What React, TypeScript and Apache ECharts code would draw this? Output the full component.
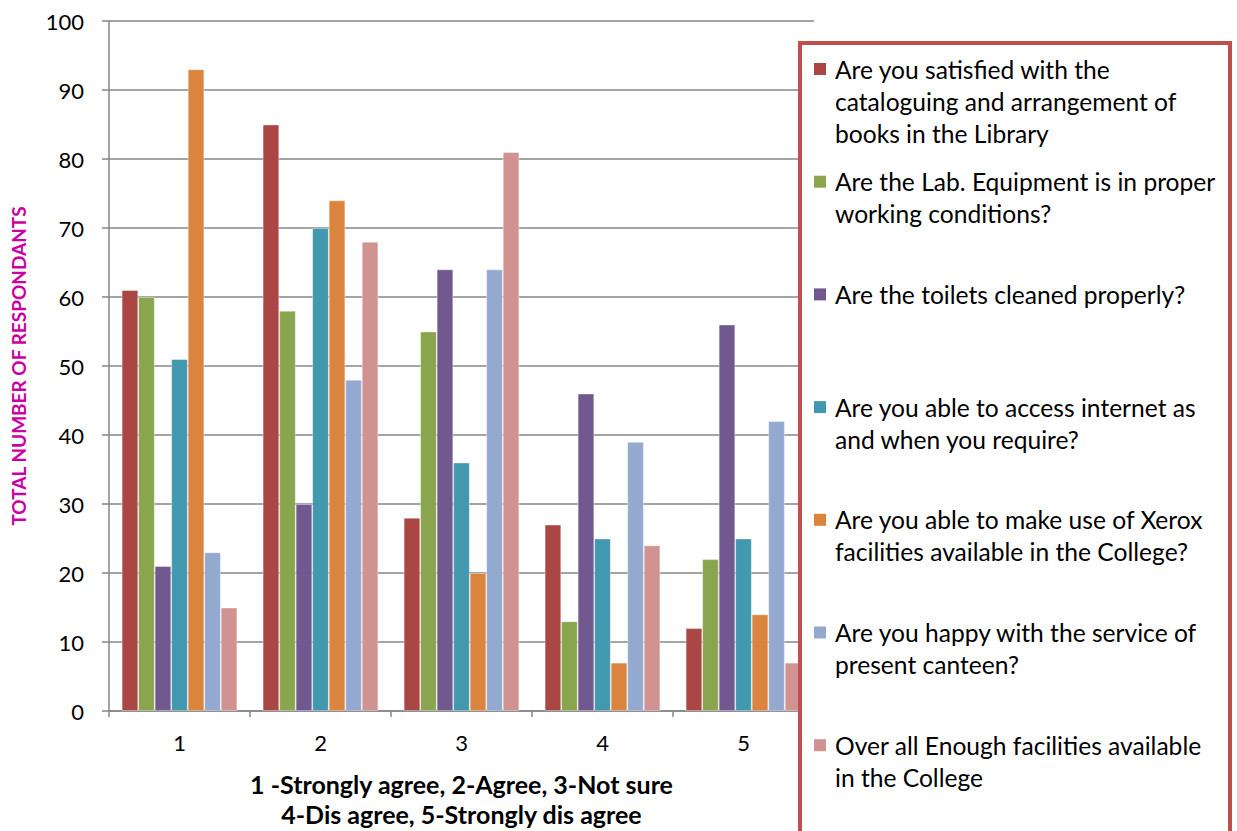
import React, { useEffect, useRef } from "react";
import * as echarts from "echarts";

const categories = ["1", "2", "3", "4", "5"];
const seriesNames = [
  "Are you satisfied with the cataloguing and arrangement of books in the Library",
  "Are the Lab. Equipment is in proper working conditions?",
  "Are the toilets cleaned properly?",
  "Are you able to access internet as and when you require?",
  "Are you able to make use of Xerox facilities available in the College?",
  "Are you happy with the service of present canteen?",
  "Over all Enough facilities available in the College",
];
const legendLines = [
  ["Are you satisfied with the", "cataloguing and arrangement of", "books in the Library"],
  ["Are the Lab. Equipment is in proper", "working conditions?"],
  ["Are the toilets cleaned properly?"],
  ["Are you able to access internet as", "and when you require?"],
  ["Are you able to make use of Xerox", "facilities available in the College?"],
  ["Are you happy with the service of", "present canteen?"],
  ["Over all Enough facilities available", "in the College"],
];
const library = [61, 85, 28, 27, 12];
const labEquipment = [60, 58, 55, 13, 22];
const toilets = [21, 30, 64, 46, 56];
const internet = [51, 70, 36, 25, 25];
const xerox = [93, 74, 20, 7, 14];
const canteen = [23, 48, 64, 39, 42];
const overall = [15, 68, 81, 24, 7];
const seriesData = [library, labEquipment, toilets, internet, xerox, canteen, overall];
const colors = ["#AA4644", "#89A54E", "#71588F", "#4198AF", "#DB843D", "#93A9CF", "#D19392"];
const yTicks = [0, 10, 20, 30, 40, 50, 60, 70, 80, 90, 100];

const FONT = "Lato, 'Open Sans', sans-serif";

export default function App() {
  const ref = useRef<HTMLDivElement>(null);
  useEffect(() => {
    if (!ref.current) return;
    const chart = echarts.init(ref.current, null, { renderer: "svg" });

    const legendGraphics: any[] = [];
    legendGraphics.push({
      type: "rect",
      shape: { x: 800, y: 43, width: 430, height: 800 },
      style: { fill: "#ffffff", stroke: "#C0504D", lineWidth: 4 },
      z: 100,
    });
    legendLines.forEach((lines, i) => {
      const top = 60 + i * 112.7;
      legendGraphics.push({
        type: "rect",
        shape: { x: 814, y: top + 3, width: 12, height: 12 },
        style: { fill: colors[i] },
        z: 101,
      });
      lines.forEach((ln, j) => {
        legendGraphics.push({
          type: "text",
          x: 835,
          y: top + 9 + j * 32,
          style: {
            text: ln,
            fill: "#000000",
            font: `24.6px ${FONT}`,
            textVerticalAlign: "middle",
            textAlign: "left",
          },
          z: 101,
        });
      });
    });

    chart.setOption({
      animation: false,
      backgroundColor: "#ffffff",
      color: colors,
      grid: {
        left: 109,
        right: 423,
        top: 21,
        bottom: 120,
        containLabel: false,
        outerBoundsMode: "none",
      },
      xAxis: {
        type: "category",
        data: categories,
        name: "1 -Strongly agree, 2-Agree, 3-Not sure\n4-Dis agree, 5-Strongly dis agree",
        nameLocation: "middle",
        nameGap: 58,
        nameTextStyle: {
          fontFamily: FONT,
          fontWeight: "bold",
          fontSize: 25,
          color: "#000",
          lineHeight: 30,
          verticalAlign: "top",
        },
        axisLine: { lineStyle: { color: "#868686", width: 1.5 } },
        axisTick: { show: true, length: 6, lineStyle: { color: "#868686", width: 1.5 } },
        axisLabel: { fontFamily: FONT, fontSize: 22, color: "#000", margin: 20 },
      },
      yAxis: {
        type: "value",
        min: 0,
        max: 100,
        interval: 10,
        name: "TOTAL NUMBER OF RESPONDANTS",
        nameLocation: "middle",
        nameGap: 81,
        nameRotate: 90,
        nameTextStyle: {
          fontFamily: FONT,
          fontWeight: "bold",
          fontSize: 19,
          color: "#CC00A0",
        },
        axisLine: { show: true, lineStyle: { color: "#868686", width: 1.5 } },
        axisTick: { show: true, length: 7, lineStyle: { color: "#868686", width: 1.5 } },
        axisLabel: {
          fontFamily: FONT,
          fontSize: 22,
          color: "#000",
          margin: 25,
          formatter: (v: number) => (yTicks.includes(v) ? String(v) : ""),
        },
        splitLine: { show: true, lineStyle: { color: "#868686", width: 1.5 } },
      },
      series: seriesData.map((d, i) => ({
        name: seriesNames[i],
        type: "bar",
        data: d,
        barGap: "0%",
        barCategoryGap: "18%",
        itemStyle: { color: colors[i], borderColor: "rgba(255,255,255,0.5)", borderWidth: 0.8 },
      })),
      graphic: legendGraphics,
    });
    return () => chart.dispose();
  }, []);
  return (
    <div
      ref={ref}
      style={{ position: "fixed", left: 0, top: 0, width: 1237, height: 831, background: "#fff" }}
    />
  );
}
